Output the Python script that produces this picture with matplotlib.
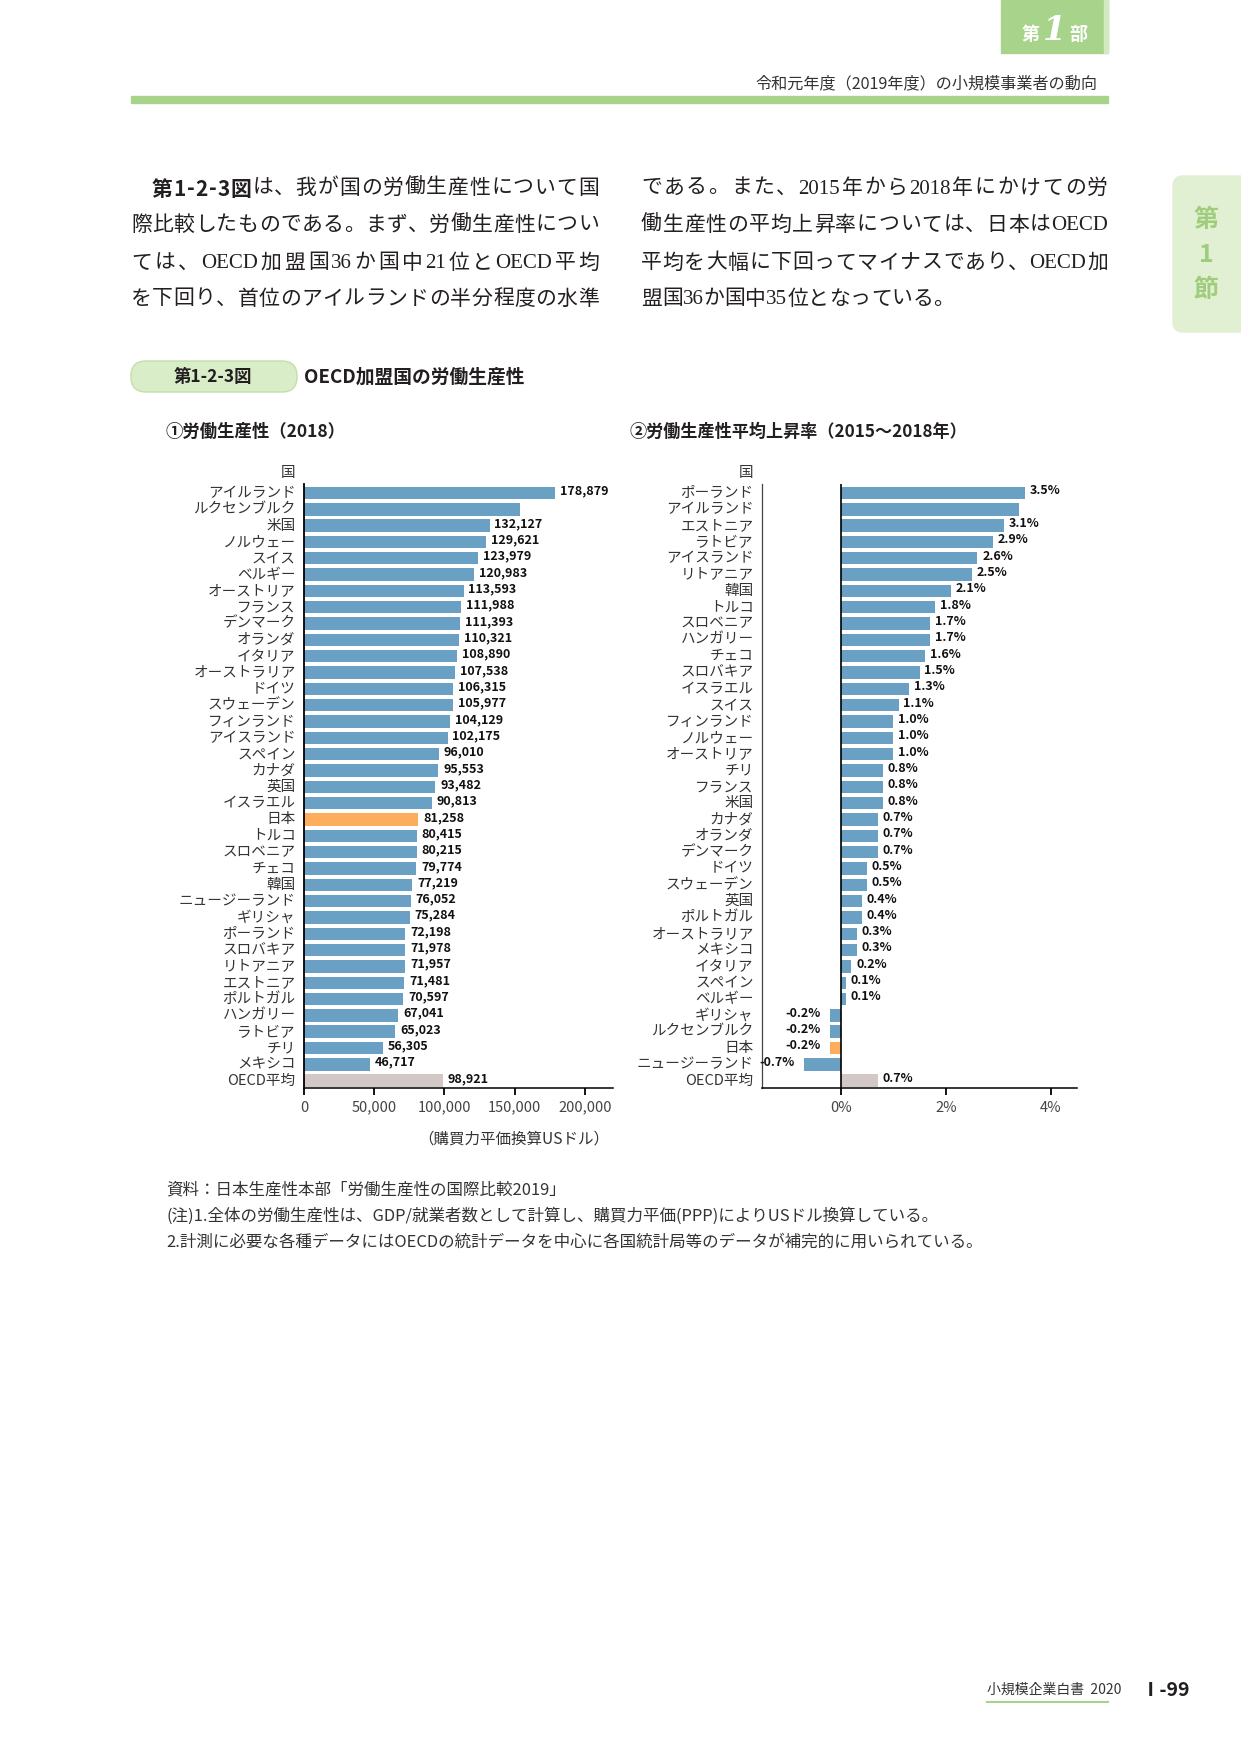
import re
import numpy as np
import matplotlib.pyplot as plt
from matplotlib.patches import Rectangle, FancyBboxPatch
from matplotlib.ticker import FuncFormatter
from matplotlib.font_manager import FontProperties

plt.rcParams['font.family'] = ['Noto Sans CJK JP', 'DejaVu Sans']

W, H = 1241, 1754

# ① 労働生産性（2018）
lp_countries = ['アイルランド', 'ルクセンブルク', '米国', 'ノルウェー', 'スイス', 'ベルギー',
                'オーストリア', 'フランス', 'デンマーク', 'オランダ', 'イタリア', 'オーストラリア',
                'ドイツ', 'スウェーデン', 'フィンランド', 'アイスランド', 'スペイン', 'カナダ',
                '英国', 'イスラエル', '日本', 'トルコ', 'スロベニア', 'チェコ', '韓国',
                'ニュージーランド', 'ギリシャ', 'ポーランド', 'スロバキア', 'リトアニア',
                'エストニア', 'ポルトガル', 'ハンガリー', 'ラトビア', 'チリ', 'メキシコ', 'OECD平均']
lp_values = [178879, 153600, 132127, 129621, 123979, 120983, 113593, 111988, 111393, 110321,
             108890, 107538, 106315, 105977, 104129, 102175, 96010, 95553, 93482, 90813,
             81258, 80415, 80215, 79774, 77219, 76052, 75284, 72198, 71978, 71957,
             71481, 70597, 67041, 65023, 56305, 46717, 98921]
lp_hidden = ['ルクセンブルク']

# ② 労働生産性平均上昇率（2015～2018年）
gr_countries = ['ポーランド', 'アイルランド', 'エストニア', 'ラトビア', 'アイスランド', 'リトアニア',
                '韓国', 'トルコ', 'スロベニア', 'ハンガリー', 'チェコ', 'スロバキア', 'イスラエル',
                'スイス', 'フィンランド', 'ノルウェー', 'オーストリア', 'チリ', 'フランス', '米国',
                'カナダ', 'オランダ', 'デンマーク', 'ドイツ', 'スウェーデン', '英国', 'ポルトガル',
                'オーストラリア', 'メキシコ', 'イタリア', 'スペイン', 'ベルギー', 'ギリシャ',
                'ルクセンブルク', '日本', 'ニュージーランド', 'OECD平均']
gr_values = [3.5, 3.4, 3.1, 2.9, 2.6, 2.5, 2.1, 1.8, 1.7, 1.7, 1.6, 1.5, 1.3, 1.1, 1.0, 1.0,
             1.0, 0.8, 0.8, 0.8, 0.7, 0.7, 0.7, 0.5, 0.5, 0.4, 0.4, 0.3, 0.3, 0.2, 0.1, 0.1,
             -0.2, -0.2, -0.2, -0.7, 0.7]
gr_hidden = ['アイルランド']

BLUE = '#6aa0c3'
ORANGE = '#fdae5c'
GREY = '#d2c8c6'
GREEN = '#a8d38b'
TEXT = '#231f20'
BODY_FONT = ['Liberation Serif', 'Noto Sans CJK JP']
SANS = ['Noto Sans CJK JP', 'DejaVu Sans']


def bar_colors(names):
    return [ORANGE if n == '日本' else GREY if n == 'OECD平均' else BLUE for n in names]


def axes_rect(x0, x1, y0, y1):
    # pixel box (from top-left) -> figure fraction
    return [x0 / W, 1 - y1 / H, (x1 - x0) / W, (y1 - y0) / H]


def draw_bars(ax, names, values, hidden, fmt):
    y = np.arange(len(names))
    ax.barh(y, values, height=0.76, color=bar_colors(names))
    ax.set_ylim(len(names) - 0.55, -0.55)
    ax.set_yticks(y, names)
    for lab in ax.get_yticklabels():
        lab.set_va('center')
    for yi, name, v in zip(y, names, values):
        if name in hidden:
            continue
        off = 3.5 if v >= 0 else -7
        ax.annotate(fmt(v), (v, yi), xytext=(off, 1.5), textcoords='offset points',
                    ha='left' if v >= 0 else 'right', va='center',
                    fontsize=9, fontweight='bold', color='#111')
    ax.spines[['top', 'right']].set_visible(False)
    ax.spines['bottom'].set_linewidth(1.1)
    ax.tick_params(axis='y', length=0, pad=6, labelsize=10.5, labelcolor='#333')
    ax.tick_params(axis='x', length=5, width=1.3, pad=4, labelsize=10.5, labelcolor='#444')
    ax.annotate('国', (0, -1.2), xycoords=('axes fraction', 'data'), xytext=(-6, 0),
                textcoords='offset points', ha='right', va='center', fontsize=10.5,
                color='#333', annotation_clip=False)


fig = plt.figure(figsize=(W / 100, H / 100), dpi=100)
renderer = fig.canvas.get_renderer()

# page layer in pixel coordinates
page = fig.add_axes([0, 0, 1, 1])
page.set_xlim(0, W)
page.set_ylim(H, 0)
page.axis('off')


def justified_line(x0, x1, y, pieces, size=15, justify=True):
    """pieces: list of (text, family, weight). Spreads tokens evenly between x0 and x1."""
    tokens = []
    for s, fam, wt in pieces:
        for tok in re.findall(r'[A-Za-z0-9]+|.', s):
            fp = FontProperties(family=fam, size=size, weight=wt)
            w = renderer.get_text_width_height_descent(tok, fp, ismath=False)[0]
            tokens.append((tok, fam, wt, w))
    total = sum(t[3] for t in tokens)
    gap = (x1 - x0 - total) / (len(tokens) - 1) if justify and len(tokens) > 1 else 0
    x = x0
    for tok, fam, wt, w in tokens:
        page.text(x, y, tok, family=fam, fontweight=wt, fontsize=size, color=TEXT, va='center')
        x += w + gap


# header
page.add_patch(Rectangle((1001, 0), 107, 53, color=GREEN))
page.add_patch(Rectangle((1104, 0), 4, 53, color='#d3e9c1'))
page.text(1031, 35, '第', color='white', fontsize=13, fontweight='bold', ha='center', va='center')
page.text(1054, 30, '1', color='white', fontsize=24, fontweight='bold', style='italic',
          family='DejaVu Serif', ha='center', va='center')
page.text(1078, 35, '部', color='white', fontsize=13, fontweight='bold', ha='center', va='center')
page.text(1097, 84, '令和元年度（2019年度）の小規模事業者の動向', fontsize=11.6, color='#333',
          ha='right', va='center')
page.add_patch(Rectangle((131, 96), 977, 7, color=GREEN))

# side tab
page.add_patch(FancyBboxPatch((1173, 176), 90, 156, boxstyle='round,pad=0,rounding_size=10',
                              color='#e1efd3'))
for yy, s in zip([220, 255, 290], ['第', '1', '節']):
    page.text(1206, yy, s, color='#9fcd7d', fontsize=18, fontweight='bold', ha='center', va='center')

# body text
justified_line(152, 599, 189, [('第1-2-3図', SANS, 'bold'),
                               ('は、我が国の労働生産性について国', BODY_FONT, 'normal')])
left_lines = ['際比較したものである。まず、労働生産性につい',
              'ては、OECD加盟国36か国中21位とOECD平均',
              'を下回り、首位のアイルランドの半分程度の水準']
right_lines = ['である。また、2015年から2018年にかけての労',
               '働生産性の平均上昇率については、日本はOECD',
               '平均を大幅に下回ってマイナスであり、OECD加',
               '盟国36か国中35位となっている。']
for yy, s in zip([226, 264, 300], left_lines):
    justified_line(131, 599, yy, [(s, BODY_FONT, 'normal')])
for i, (yy, s) in enumerate(zip([189, 226, 264, 300], right_lines)):
    justified_line(641, 1108, yy, [(s, BODY_FONT, 'normal')], justify=i < 3)

# figure caption
page.add_patch(FancyBboxPatch((131, 361), 166, 31, boxstyle='round,pad=0,rounding_size=15',
                              facecolor='#d9edc8', edgecolor='#c2e0aa', lw=1))
page.text(213, 377, '第1-2-3図', fontsize=12.5, fontweight='bold', color=TEXT, ha='center', va='center')
page.text(304, 377, 'OECD加盟国の労働生産性', fontsize=13.5, fontweight='bold', color=TEXT, va='center')
page.text(166, 432, '①労働生産性（2018）', fontsize=12.5, fontweight='bold', color=TEXT, va='center')
page.text(630, 432, '②労働生産性平均上昇率（2015～2018年）', fontsize=12.3, fontweight='bold',
          color=TEXT, va='center')

# left chart
ax1 = fig.add_axes(axes_rect(304, 613, 484, 1088))
draw_bars(ax1, lp_countries, lp_values, lp_hidden, lambda v: f'{v:,.0f}')
ax1.set_xlim(0, 220000)
ax1.set_xticks(np.arange(0, 200001, 50000))
ax1.xaxis.set_major_formatter(FuncFormatter(lambda v, p: f'{v:,.0f}'))
ax1.spines['left'].set_linewidth(1.3)
page.text(609, 1139, '（購買力平価換算USドル）', fontsize=11.2, color='#333', ha='right', va='center')

# right chart
ax2 = fig.add_axes(axes_rect(762, 1077, 484, 1088))
draw_bars(ax2, gr_countries, gr_values, gr_hidden, lambda v: f'{v:.1f}%')
ax2.set_xlim(-1.5, 4.5)
ax2.set_xticks([0, 2, 4])
ax2.xaxis.set_major_formatter(FuncFormatter(lambda v, p: f'{v:.0f}%'))
ax2.spines['left'].set_linewidth(0.9)
ax2.spines['left'].set_color('#444')
ax2.axvline(0, color='black', lw=1.2)

# notes
notes = ['資料：日本生産性本部「労働生産性の国際比較2019」',
         '(注)1.全体の労働生産性は、GDP/就業者数として計算し、購買力平価(PPP)によりUSドル換算している。',
         '2.計測に必要な各種データにはOECDの統計データを中心に各国統計局等のデータが補完的に用いられている。']
for yy, s in zip([1190, 1216, 1242], notes):
    page.text(166, yy, s, fontsize=11.9, color='#333', va='center')

# footer
page.text(987, 1690, '小規模企業白書  2020', fontsize=10, color='#333', va='center')
page.plot([987, 1108], [1702, 1702], color=GREEN, lw=1.5)
page.text(1141, 1690, 'Ⅰ-99', fontsize=14, fontweight='bold', color=TEXT, va='center')

fig.savefig('out.png', dpi=100)
